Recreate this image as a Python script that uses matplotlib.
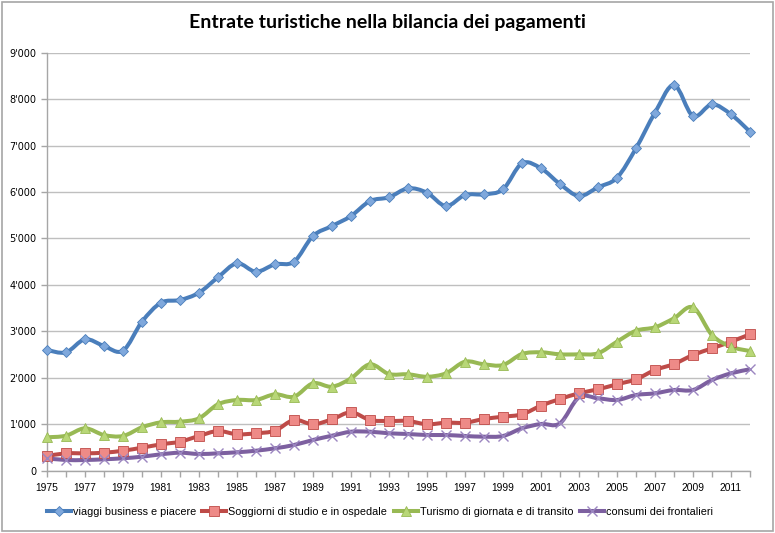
import numpy as np
import matplotlib
matplotlib.use("Agg")
import matplotlib.pyplot as plt
from matplotlib.path import Path
from matplotlib.patches import PathPatch, Rectangle
from matplotlib.lines import Line2D
from matplotlib.ticker import FuncFormatter, MultipleLocator

years = list(range(1975, 2013))

viaggi = [2598, 2548, 2828, 2684, 2583, 3207, 3616, 3674, 3831, 4163,
          4464, 4283, 4443, 4498, 5052, 5267, 5482, 5805, 5885, 6078,
          5984, 5697, 5934, 5949, 6057, 6616, 6509, 6171, 5913, 6100,
          6306, 6939, 7706, 8302, 7634, 7886, 7671, 7297]
soggiorni = [316, 374, 374, 387, 430, 495, 568, 624, 747, 854,
             783, 805, 861, 1091, 999, 1106, 1257, 1091, 1070, 1070,
             999, 1033, 1033, 1113, 1162, 1214, 1399, 1543, 1666, 1752,
             1860, 1967, 2167, 2297, 2490, 2634, 2777, 2936]
turismo = [719, 753, 912, 768, 747, 934, 1041, 1055, 1127, 1429,
           1522, 1522, 1644, 1593, 1881, 1808, 1988, 2290, 2081, 2075,
           2023, 2096, 2346, 2290, 2275, 2512, 2548, 2505, 2505, 2527,
           2777, 3013, 3087, 3280, 3517, 2921, 2669, 2576]
frontalieri = [267, 230, 230, 245, 267, 301, 353, 387, 359, 374,
               396, 430, 482, 553, 661, 753, 839, 839, 805, 790,
               768, 768, 747, 732, 747, 912, 1005, 1020, 1580, 1558,
               1522, 1629, 1666, 1737, 1737, 1952, 2096, 2183]

series = [
    ("viaggi business e piacere", viaggi, "#4A7EBB", "D", "#7FA8DC", 5.5),
    ("Soggiorni di studio e in ospedale", soggiorni, "#BE4B48", "s", "#EE8A87", 7),
    ("Turismo di giornata e di transito", turismo, "#98B954", "^", "#B8D777", 7),
    ("consumi dei frontalieri", frontalieri, "#7D60A0", "x", "#9B86C0", 7),
]

small = ["Liberation Sans", "DejaVu Sans"]


def smooth_path(x, y):
    # bezier path through the points, like the smoothed lines of a spreadsheet
    x = np.asarray(x, float)
    y = np.asarray(y, float)
    n = len(x)
    verts = [(x[0], y[0])]
    codes = [Path.MOVETO]
    for i in range(n - 1):
        i0 = max(i - 1, 0)
        i3 = min(i + 2, n - 1)
        c1 = (x[i] + (x[i + 1] - x[i0]) / 6, y[i] + (y[i + 1] - y[i0]) / 6)
        c2 = (x[i + 1] - (x[i3] - x[i]) / 6, y[i + 1] - (y[i3] - y[i]) / 6)
        verts += [c1, c2, (x[i + 1], y[i + 1])]
        codes += [Path.CURVE4] * 3
    return Path(verts, codes)


fig = plt.figure(figsize=(7.75, 5.33), dpi=100)
fig.patches.append(Rectangle((0.002, 0.003), 0.995, 0.994, transform=fig.transFigure,
                             fill=False, edgecolor="#A6A6A6", linewidth=1.2))
ax = fig.add_axes([0.0606, 0.1169, 0.9071, 0.7844])

handles = []
for name, vals, col, mk, face, ms in series:
    ax.add_patch(PathPatch(smooth_path(years, vals), facecolor="none",
                           edgecolor=col, linewidth=2.9, capstyle="round",
                           joinstyle="round", zorder=3))
    if mk == "x":
        ax.plot(years, vals, linestyle="none", marker=mk, markersize=ms,
                markeredgecolor=face, markeredgewidth=1.0, zorder=4, clip_on=False)
        h = Line2D([], [], color=col, linewidth=2.9, marker=mk, markersize=ms,
                   markeredgecolor=face)
    else:
        ax.plot(years, vals, linestyle="none", marker=mk, markersize=ms,
                markerfacecolor=face, markeredgecolor=col, markeredgewidth=0.6,
                zorder=4, clip_on=False)
        h = Line2D([], [], color=col, linewidth=2.9, marker=mk, markersize=ms,
                   markerfacecolor=face, markeredgecolor=col, markeredgewidth=0.6)
    handles.append((h, name))

ax.set_xlim(1975, 2012)
ax.set_ylim(0, 9000)
ax.yaxis.set_major_locator(MultipleLocator(1000))
ax.yaxis.set_major_formatter(FuncFormatter(lambda v, p: "0" if v == 0 else f"{int(v):,}".replace(",", "'")))
ax.set_xticks(years)
ax.set_xticklabels([str(y) if (y - 1975) % 2 == 0 else "" for y in years])
ax.grid(axis="y", color="#BFBFBF", linewidth=1.0)
ax.set_axisbelow(True)
for s in ["top", "right"]:
    ax.spines[s].set_visible(False)
for s in ["left", "bottom"]:
    ax.spines[s].set_color("#A6A6A6")
    ax.spines[s].set_linewidth(1.0)
ax.tick_params(axis="both", colors="#A6A6A6", length=4, width=1.0, labelcolor="black")
ax.tick_params(axis="x", pad=5)
for lab in ax.get_xticklabels():
    lab.set_family(small)
    lab.set_fontsize(7.4)
for lab in ax.get_yticklabels():
    lab.set_family(["DejaVu Sans"])
    lab.set_fontsize(7.0)

fig.text(0.5, 0.958, "Entrate turistiche nella bilancia dei pagamenti", ha="center",
         va="center", fontsize=14, fontweight="bold", family=["Lato", "DejaVu Sans"])

fig.legend([h for h, n in handles], [n for h, n in handles], loc="center",
           bbox_to_anchor=(0.49, 0.04), ncol=4, frameon=False, handlelength=2.2,
           handletextpad=0.2, columnspacing=0.6, prop={"family": small, "size": 7.8})

fig.savefig("out.png", dpi=100)
